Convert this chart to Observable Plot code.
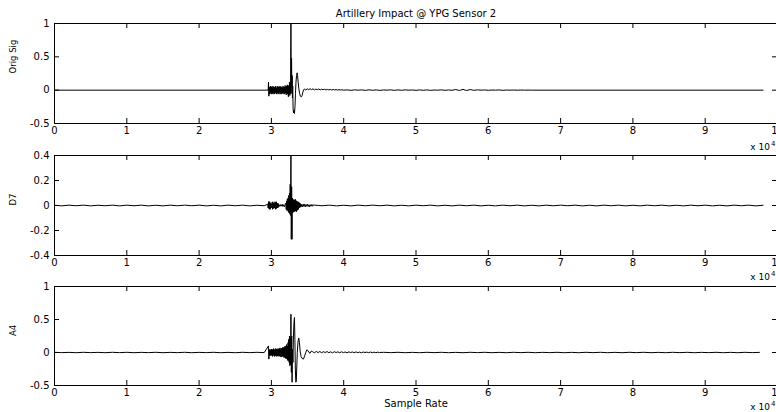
<!DOCTYPE html>
<html><head><meta charset="utf-8">
<script src="https://cdn.jsdelivr.net/npm/d3@7"></script>
<script src="https://cdn.jsdelivr.net/npm/@observablehq/plot@0.6"></script>
<style>
html,body{margin:0;padding:0;background:#fff;}
#chart{position:relative;width:776px;height:412px;overflow:hidden;font-family:"DejaVu Sans",sans-serif;}
#chart svg{position:absolute;left:0;top:0;}
</style></head><body><div id="chart"></div>
<script>
// ---- texts & ticks ----
const title = "Artillery Impact @ YPG Sensor 2";
const xTitle = "Sample Rate";
const panelLabels = ["Orig Sig", "D7", "A4"];
const xTicks = [0,10000,20000,30000,40000,50000,60000,70000,80000,90000,100000];
const yTicksOrig = [-0.5, 0, 0.5, 1];
const yTicksD7 = [-0.4, -0.2, 0, 0.2, 0.4];
const yTicksA4 = [-0.5, 0, 0.5, 1];

// ---- Orig Sig ----
const origFlat = [[0, 0], [29550, 0]];
const origNoiseStart = 29600, origNoiseStep = 50;
const origNoise = [0.12,-0.09,0.05,-0.06,0.04,-0.05,0.06,-0.04,0.05,-0.06,
 0.03,-0.05,0.06,-0.03,0.05,-0.06,0.04,-0.05,0.05,-0.04,
 0.06,-0.05,0.03,-0.06,0.05,-0.04,0.06,-0.05,0.04,-0.06,
 0.05,-0.03,0.06,-0.05,0.04,-0.06,0.05,-0.04,0.03,-0.05,
 0.06,-0.04,0.05,-0.06,0.04,-0.05,0.07,-0.04,0.05,-0.07,
 0.06,-0.05,0.08,-0.06,0.05,-0.1,0.07,-0.06,0.12,-0.08,
 0.1,-0.05];
const origEvent = [[32700,1.0],[32740,0.05],[32790,0.48],[32830,-0.05],[32870,0.22],[32910,-0.12],
 [32950,0.06],[33000,-0.28],[33060,-0.34],[33120,-0.3],[33190,-0.35],[33260,-0.25],[33330,-0.05],
 [33400,0.12],[33480,0.22],[33560,0.26],[33620,0.22],[33700,0.12],[33800,0.02],[33900,-0.05],
 [34000,-0.09],[34150,-0.1],[34250,-0.08],[34350,-0.03],[34450,0.0]];
const origTailStart = 34550, origTailStep = 200;
const origTail = [0.018,0.004,0.02,0.008,0.022,0.008,0.02,0.004,0.016,0.008,0.018,0.004,0.015,0.006,
 0.014,0.003,0.012,0.004,0.011,0.002,0.01,0.003,0.009,0.002,0.008,0.002,0.007,0.0];
const origTail2Start = 40500, origTail2Step = 500;
const origTail2 = [0.004,-0.003,0.005,0.0,0.004,-0.003,0.005,-0.002,0.004,-0.004,
 0.003,0.0,0.005,-0.003,0.004,-0.002,0.004,0.0,0.003,-0.003,
 0.004,-0.002,0.004,-0.003,0.002,0.0,0.004,-0.002,0.003,-0.002,
 0.01,-0.005,0.012,-0.006,0.01,-0.003,0.005,0.0,0.003,-0.002,
 0.002,0.0,0.003,-0.002,0.002,0.0,0.002,-0.001,0.002,0.0,
 0.001,0.0];
const origEnd = [[98000, 0]];

// ---- D7 ----
const d7PreStart = 0, d7PreStep = 1000;
const d7Pre = [0.002,-0.003,0.003,-0.002,0.003,-0.003,0.002,-0.002,0.003,-0.003,0.003,-0.002,0.003,-0.003,0.002,
 -0.003,0.003,-0.002,0.003,-0.002,0.003,-0.003,0.002,-0.003,0.003,-0.002,0.003,-0.003,0.002,-0.002];
const d7Burst1Start = 29500, d7Burst1Step = 50;
const d7Burst1 = [0.01,-0.02,0.03,-0.025,0.032,-0.03,0.025,-0.03,0.02,-0.015,
 0.01,-0.02,0.025,-0.03,0.03,-0.025,0.02,-0.01,0.015,-0.02,
 0.03,-0.03,0.025,-0.028,0.03,-0.02,0.015,-0.02,0.02,-0.015,
 0.01,-0.008,0.005];
const d7GapStart = 31200, d7GapStep = 100;
const d7Gap = [-0.006,0.008,-0.005,0.01,-0.008,0.006,-0.01,0.008];
const d7Burst2Start = 32000, d7Burst2Step = 50;
const d7Burst2 = [0.02,-0.03,0.035,-0.04,0.05,-0.04,0.06,-0.05,0.08,-0.06,
 0.1,-0.07,0.17,-0.08,0.4,-0.27,0.15,-0.27,0.06,-0.06,
 0.05,-0.05,0.04,-0.05,0.045,-0.04,0.05,-0.045,0.04,-0.05,
 0.035,-0.04,0.03,-0.035,0.03,-0.03,0.025,-0.02,0.02,-0.015,
 0.015,-0.01,0.01,-0.008,0.006];
const d7Tail1Start = 34300, d7Tail1Step = 100;
const d7Tail1 = [-0.01,0.012,-0.008,0.01,-0.012,0.008,-0.006,0.01,-0.008,0.006,-0.01,0.006,-0.005,0.008,-0.006,0.005];
const d7Tail2Start = 36000, d7Tail2Step = 1000;
const d7Tail2 = [0.003,-0.002,0.003,-0.003,0.002,-0.003,0.003,-0.002,0.003,-0.002,
 0.003,-0.003,0.002,-0.003,0.003,-0.002,0.003,-0.003,0.002,-0.003,
 0.003,-0.002,0.003,-0.003,0.002,-0.003,0.003,-0.002,0.003,-0.003,
 0.002,-0.003,0.003,-0.002,0.003,-0.002,0.003,-0.003,0.002,-0.003,
 0.003,-0.002,0.003,-0.003,0.002,-0.003,0.003,-0.002,0.003,-0.003,
 0.002,-0.003,0.003,-0.002,0.003,-0.003,0.002,-0.003,0.003,-0.002,
 0.003,-0.003,0.002];

// ---- A4 ----
const a4PreStart = 0, a4PreStep = 1000;
const a4Pre = [0.003,-0.002,0.002,-0.003,0.003,-0.002,0.002,-0.003,0.003,-0.002,0.003,-0.003,0.002,-0.002,0.003,
 -0.003,0.002,-0.002,0.003,-0.003,0.002,-0.002,0.003,-0.003,0.002,-0.003,0.003,-0.002,0.003,-0.002];
const a4BurstStart = 29600, a4BurstStep = 50;
const a4Burst = [0.1,-0.1,0.04,-0.05,0.05,-0.04,0.03,-0.05,0.05,-0.04,
 0.04,-0.06,0.05,-0.04,0.06,-0.05,0.04,-0.06,0.05,-0.05,
 0.06,-0.04,0.05,-0.06,0.04,-0.05,0.06,-0.05,0.05,-0.06,
 0.06,-0.05,0.07,-0.06,0.05,-0.07,0.06,-0.05,0.07,-0.06,
 0.08,-0.06,0.07,-0.08,0.09,-0.07,0.08,-0.09,0.1,-0.08,
 0.12,-0.1,0.1,-0.12,0.15,-0.12,0.2,-0.15,0.25,-0.2,
 0.22,-0.18];
const a4Event = [[32700,0.58],[32760,-0.3],[32810,0.25],[32860,-0.45],[32920,0.05],[32980,-0.15],
 [33050,0.25],[33120,0.45],[33190,0.53],[33250,0.2],[33310,-0.25],[33380,-0.45],[33440,-0.44],
 [33500,-0.25],[33580,0.0],[33680,0.16],[33780,0.22],[33880,0.15],[33980,0.02],[34100,-0.06],
 [34250,-0.09],[34430,-0.1],[34600,-0.05],[34750,0.0],[34900,0.04],[35050,0.03],[35200,0.0],
 [35350,-0.01],[35500,0.02]];
const a4Tail1Start = 35700, a4Tail1Step = 250;
const a4Tail1 = [0.012,-0.004,0.015,0.0,0.014,-0.003,0.012,0.0,0.014,-0.003,
 0.01,-0.005,0.012,0.0,0.01,-0.004,0.011,-0.002,0.008,-0.005,
 0.009,0.0,0.008,-0.003,0.009,-0.002,0.006,-0.004,0.007,0.0,
 0.006,-0.003,0.007,-0.002,0.005,-0.003,0.005,0.0];
const a4Tail2Start = 45500, a4Tail2Step = 1000;
const a4Tail2 = [0.003,-0.002,0.003,-0.003,0.002,-0.003,0.003,-0.002,0.003,-0.003,
 0.002,-0.003,0.003,-0.002,0.003,-0.003,0.002,-0.003,0.003,-0.002,
 0.003,-0.003,0.002,-0.002,0.003,-0.003,0.002,-0.003,0.003,-0.002,
 0.003,-0.003,0.002,-0.003,0.003,-0.002,0.003,-0.003,0.002,-0.003,
 0.003,-0.002,0.003,-0.003,0.002,-0.002,0.003,-0.003,0.002,-0.003,
 0.003,-0.002,0.002];

// ---- build tables ----
const seg = (start, step, vals) => vals.map((v, i) => ({x: start + i * step, y: v}));
const pts = arr => arr.map(([x, y]) => ({x, y}));

const origData = [...pts(origFlat), ...seg(origNoiseStart, origNoiseStep, origNoise), ...pts(origEvent),
  ...seg(origTailStart, origTailStep, origTail), ...seg(origTail2Start, origTail2Step, origTail2), ...pts(origEnd)];
const d7Data = [...seg(d7PreStart, d7PreStep, d7Pre), ...seg(d7Burst1Start, d7Burst1Step, d7Burst1),
  ...seg(d7GapStart, d7GapStep, d7Gap), ...seg(d7Burst2Start, d7Burst2Step, d7Burst2),
  ...seg(d7Tail1Start, d7Tail1Step, d7Tail1), ...seg(d7Tail2Start, d7Tail2Step, d7Tail2)];
const a4Data = [...seg(a4PreStart, a4PreStep, a4Pre), ...seg(a4BurstStart, a4BurstStep, a4Burst), ...pts(a4Event),
  ...seg(a4Tail1Start, a4Tail1Step, a4Tail1), ...seg(a4Tail2Start, a4Tail2Step, a4Tail2)];

// ---- layout ----
const W = 776, H = 412, ML = 54, MR = -1;
const FONT = "DejaVu Sans, Liberation Sans, sans-serif";

function panel(o) {
  const fw = W - ML - MR;
  const fh = o.bottom - o.top;
  const innerY = o.yTicks.slice(1, -1);
  const innerX = xTicks.slice(1, -1);
  const marks = [
    Plot.line(o.data, {x: "x", y: "y", stroke: "#000", strokeWidth: 1, clip: true}),
    Plot.frame({stroke: "#000"}),
    Plot.tickX(innerX, {x: d => d, insetTop: fh - 5, stroke: "#000"}),
    Plot.tickX(innerX, {x: d => d, insetBottom: fh - 5, stroke: "#000"}),
    Plot.tickY(innerY, {y: d => d, insetRight: fw - 5, stroke: "#000"}),
    Plot.tickY(innerY, {y: d => d, insetLeft: fw - 5, stroke: "#000"}),
    Plot.axisX(xTicks, {tickSize: 0, tickPadding: 3, tickFormat: d => String(d / 1e4), label: null, fill: "#000"}),
    Plot.axisY(o.yTicks, {tickSize: 0, tickPadding: 5, tickFormat: d => String(d), label: null, fill: "#000"}),
    Plot.text([o.label], {frameAnchor: "left", dx: 13 - ML, rotate: -90, fontSize: 8.5, fill: "#000"}),
    Plot.text(["x 10"], {frameAnchor: "bottom-right", lineAnchor: "middle", textAnchor: "end", dx: -7.5, dy: o.expDy, fontSize: 9, fill: "#000"}),
    Plot.text(["4"], {frameAnchor: "bottom-right", lineAnchor: "middle", textAnchor: "start", dx: -6.5, dy: o.expDy - 3.5, fontSize: 7, fill: "#000"})
  ];
  if (o.extra) marks.push(...o.extra);
  return Plot.plot({
    width: W, height: H,
    marginLeft: ML, marginRight: MR, marginTop: o.top, marginBottom: H - o.bottom,
    x: {domain: [0, 100000], label: null},
    y: {domain: o.yDomain, label: null},
    style: {background: "transparent", fontFamily: FONT, fontSize: "10px", color: "#000"},
    marks
  });
}

const chart = document.getElementById("chart");
chart.append(panel({
  data: origData, yDomain: [-0.5, 1], yTicks: yTicksOrig, label: panelLabels[0],
  top: 23, bottom: 123, expDy: 24,
  extra: [Plot.text([title], {frameAnchor: "top", lineAnchor: "middle", dy: -10, fontSize: 10, fill: "#000"})]
}));
chart.append(panel({
  data: d7Data, yDomain: [-0.4, 0.4], yTicks: yTicksD7, label: panelLabels[1],
  top: 155, bottom: 255, expDy: 21.5
}));
chart.append(panel({
  data: a4Data, yDomain: [-0.5, 1], yTicks: yTicksA4, label: panelLabels[2],
  top: 286, bottom: 385, expDy: 21.5,
  extra: [Plot.text([xTitle], {frameAnchor: "bottom", lineAnchor: "middle", dy: 18.5, fontSize: 10, fill: "#000"})]
}));
</script></body></html>
